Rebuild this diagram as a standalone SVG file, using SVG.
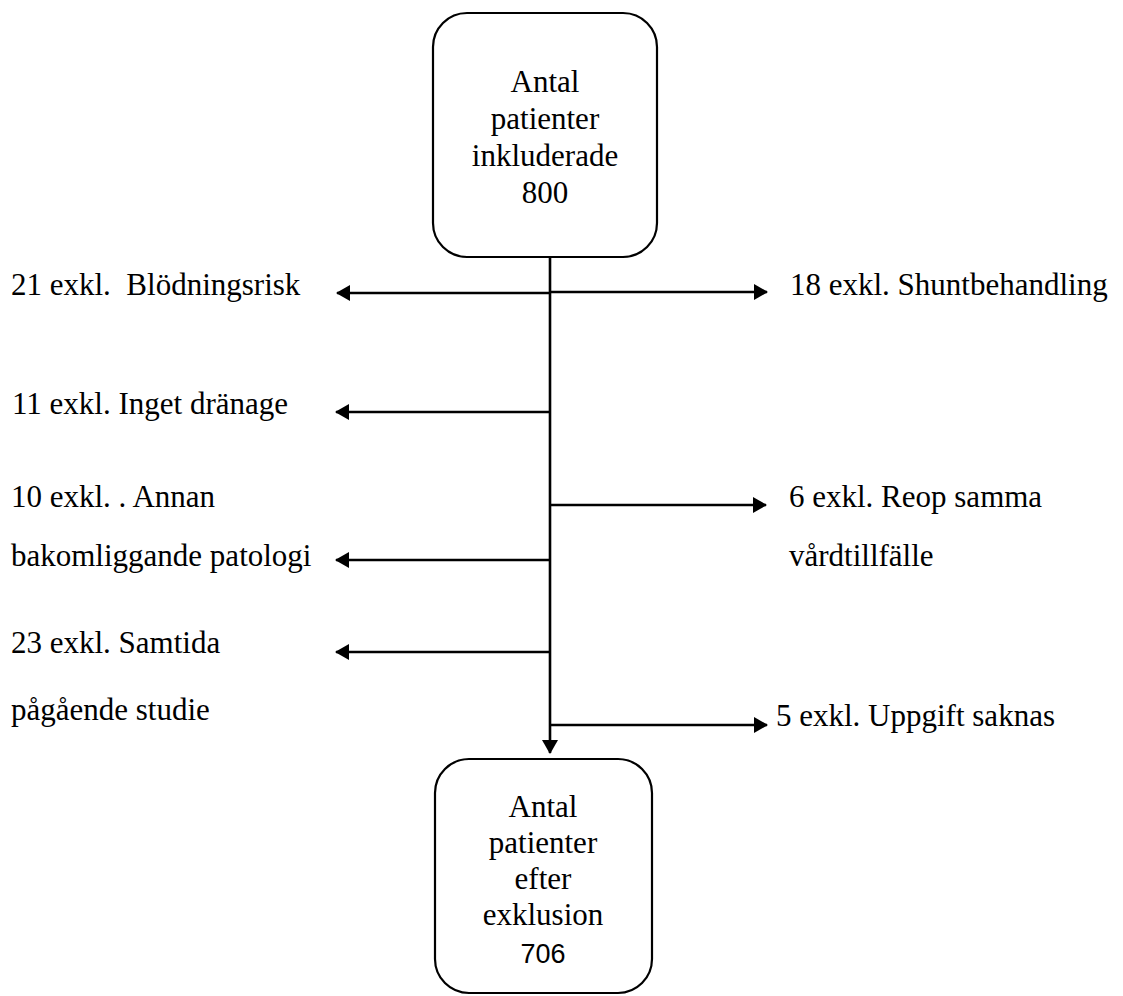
<svg xmlns="http://www.w3.org/2000/svg" width="1123" height="996" viewBox="0 0 1123 996">
<style>
  .box { fill: #ffffff; stroke: #000000; stroke-width: 2.2; }
  .t { font-family: "Liberation Serif", "Times New Roman", serif; font-size: 31px; fill: #000000; }
  .c { text-anchor: middle; }
  .s { font-family: "Liberation Sans", Arial, sans-serif; font-size: 27px; fill: #000000; text-anchor: middle; }
  .ln { stroke: #000000; stroke-width: 2.6; fill: none; }
</style>
<defs>
  <marker id="ah" viewBox="0 0 14 16" refX="13" refY="8" markerWidth="14" markerHeight="16" markerUnits="userSpaceOnUse" orient="auto">
    <path d="M0,0 L14,8 L0,16 Z" fill="#000000"/>
  </marker>
</defs>
<rect width="1123" height="996" fill="#ffffff"/>

<g id="connectors">
  <line class="ln" x1="550" y1="257" x2="550" y2="753" marker-end="url(#ah)"/>
  <line class="ln" x1="550" y1="293" x2="337" y2="293" marker-end="url(#ah)"/>
  <line class="ln" x1="550" y1="292" x2="767" y2="292" marker-end="url(#ah)"/>
  <line class="ln" x1="550" y1="412" x2="336" y2="412" marker-end="url(#ah)"/>
  <line class="ln" x1="550" y1="505" x2="766" y2="505" marker-end="url(#ah)"/>
  <line class="ln" x1="550" y1="560" x2="336" y2="560" marker-end="url(#ah)"/>
  <line class="ln" x1="550" y1="652" x2="336" y2="652" marker-end="url(#ah)"/>
  <line class="ln" x1="550" y1="725" x2="767" y2="725" marker-end="url(#ah)"/>
</g>

<g id="node-start">
  <rect class="box" x="433" y="13" width="224" height="244" rx="34" ry="34"/>
  <text class="t c" x="545" y="92">Antal</text>
  <text class="t c" x="545" y="129">patienter</text>
  <text class="t c" x="545" y="166">inkluderade</text>
  <text class="t c" x="545" y="203">800</text>
</g>

<g id="node-end">
  <rect class="box" x="435" y="759" width="217" height="234" rx="34" ry="34"/>
  <text class="t c" x="543" y="817">Antal</text>
  <text class="t c" x="543" y="853">patienter</text>
  <text class="t c" x="543" y="889">efter</text>
  <text class="t c" x="543" y="925">exklusion</text>
  <text class="s" x="543" y="963">706</text>
</g>

<g id="excl-bleeding">
  <text class="t" x="11" y="295" xml:space="preserve">21 exkl.  Blödningsrisk</text>
</g>
<g id="excl-shunt">
  <text class="t" x="790" y="295">18 exkl. Shuntbehandling</text>
</g>
<g id="excl-drainage">
  <text class="t" x="12" y="414">11 exkl. Inget dränage</text>
</g>
<g id="excl-pathology">
  <text class="t" x="11" y="507">10 exkl. . Annan</text>
  <text class="t" x="11" y="566">bakomliggande patologi</text>
</g>
<g id="excl-reop">
  <text class="t" x="789" y="507">6 exkl. Reop samma</text>
  <text class="t" x="789" y="566">vårdtillfälle</text>
</g>
<g id="excl-study">
  <text class="t" x="11" y="653">23 exkl. Samtida</text>
  <text class="t" x="11" y="720">pågående studie</text>
</g>
<g id="excl-missing">
  <text class="t" x="776" y="726">5 exkl. Uppgift saknas</text>
</g>
</svg>
